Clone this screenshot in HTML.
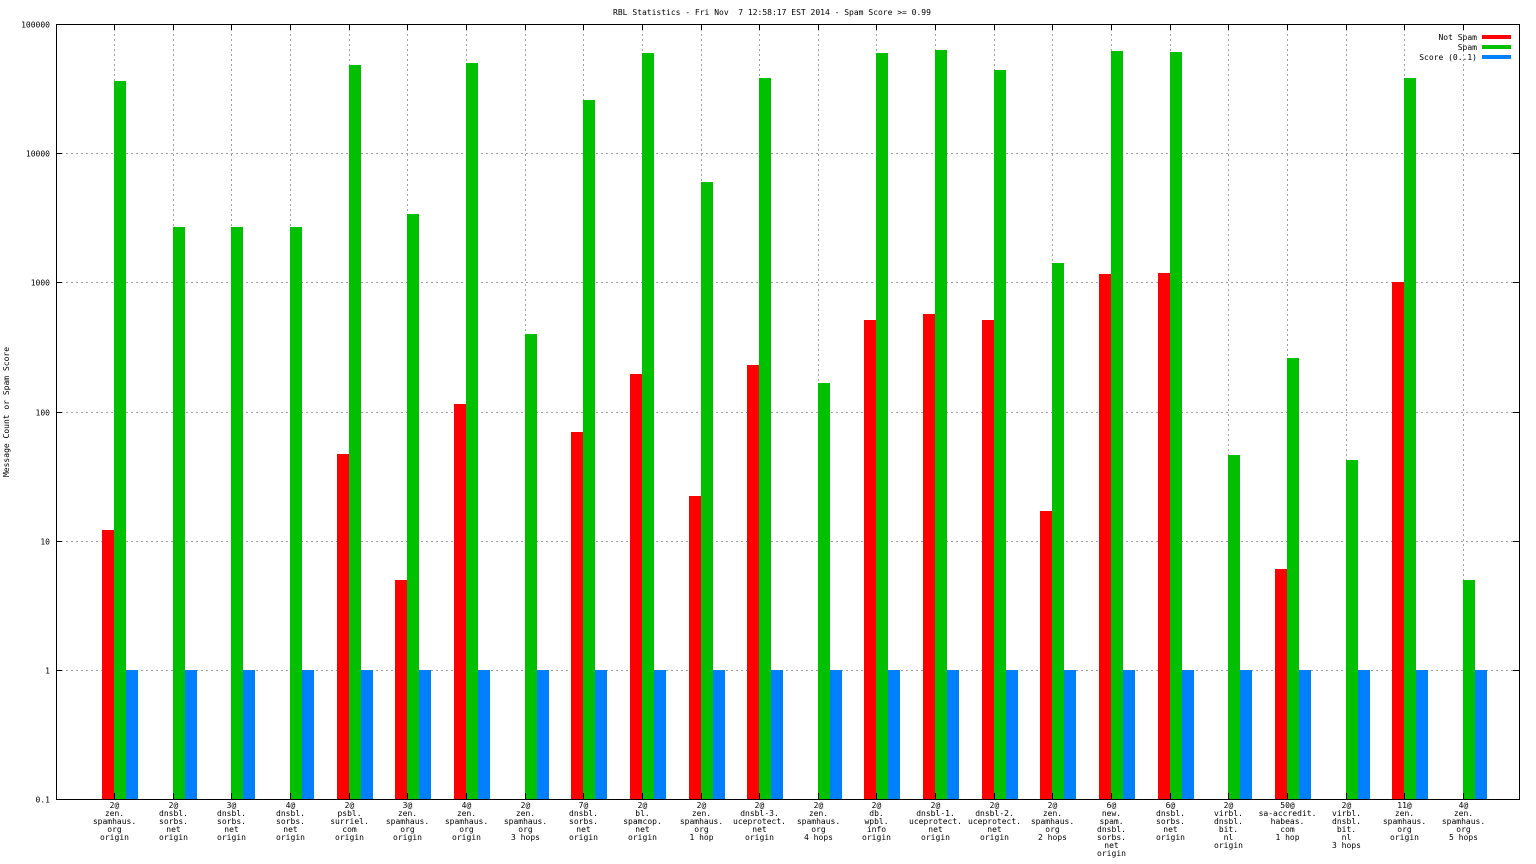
<!DOCTYPE html>
<html><head><meta charset="utf-8"><style>
body{margin:0;background:#fff}
svg{display:block}
text{font-family:"DejaVu Sans Mono","Liberation Mono",monospace;font-size:8px;fill:#000}
</style></head><body>
<svg id="chart" width="1536" height="864" xmlns="http://www.w3.org/2000/svg">
<text x="772" y="15" text-anchor="middle" style="white-space:pre">RBL Statistics - Fri Nov  7 12:58:17 EST 2014 - Spam Score &gt;= 0.99</text>
<text transform="translate(9,412) rotate(-90)" text-anchor="middle">Message Count or Spam Score</text>
<g id="grid"></g><g id="bars"></g><g id="ticks"></g>
<rect x="56.5" y="24.5" width="1463" height="775" fill="none" stroke="#000" stroke-width="1"/>
<g>
<text x="1477" y="40" text-anchor="end">Not Spam</text>
<rect x="1482" y="35" width="29" height="4" fill="#ff0000"/>
<text x="1477" y="50" text-anchor="end">Spam</text>
<rect x="1482" y="45" width="29" height="4" fill="#00c000"/>
<text x="1477" y="60" text-anchor="end">Score (0..1)</text>
<rect x="1482" y="55" width="29" height="4" fill="#0080ff"/>
</g>
</svg>
<script>
const categories = [
["2@","zen.","spamhaus.","org","origin"],
["2@","dnsbl.","sorbs.","net","origin"],
["3@","dnsbl.","sorbs.","net","origin"],
["4@","dnsbl.","sorbs.","net","origin"],
["2@","psbl.","surriel.","com","origin"],
["3@","zen.","spamhaus.","org","origin"],
["4@","zen.","spamhaus.","org","origin"],
["2@","zen.","spamhaus.","org","3 hops"],
["7@","dnsbl.","sorbs.","net","origin"],
["2@","bl.","spamcop.","net","origin"],
["2@","zen.","spamhaus.","org","1 hop"],
["2@","dnsbl-3.","uceprotect.","net","origin"],
["2@","zen.","spamhaus.","org","4 hops"],
["2@","db.","wpbl.","info","origin"],
["2@","dnsbl-1.","uceprotect.","net","origin"],
["2@","dnsbl-2.","uceprotect.","net","origin"],
["2@","zen.","spamhaus.","org","2 hops"],
["6@","new.","spam.","dnsbl.","sorbs.","net","origin"],
["6@","dnsbl.","sorbs.","net","origin"],
["2@","virbl.","dnsbl.","bit.","nl","origin"],
["50@","sa-accredit.","habeas.","com","1 hop"],
["2@","virbl.","dnsbl.","bit.","nl","3 hops"],
["11@","zen.","spamhaus.","org","origin"],
["4@","zen.","spamhaus.","org","5 hops"]
];
const notSpam = [12,null,null,null,47,5,115,null,70,195,22,230,null,510,570,510,17,1150,1180,null,6,null,1000,null];
const spam = [36000,2700,2700,2700,48000,3400,50000,400,26000,60000,6000,38000,165,60000,63000,44000,1400,62000,61000,46,260,42,38000,5];
const score = [1,1,1,1,1,1,1,1,1,1,1,1,1,1,1,1,1,1,1,1,1,1,1,1];
const yTicks = ["0.1","1","10","100","1000","10000","100000"];

const NS="http://www.w3.org/2000/svg";
const plotTop=24, plotBot=799, logLo=-1, logHi=5;
function yScale(v){return plotBot-(Math.log10(v)-logLo)/(logHi-logLo)*(plotBot-plotTop);}
function xScale(i){return 114+i*58.65;}
function mk(tag,attrs,parent){const e=document.createElementNS(NS,tag);for(const k in attrs)e.setAttribute(k,attrs[k]);parent.appendChild(e);return e;}
const grid=document.getElementById('grid'),bars=document.getElementById('bars'),ticks=document.getElementById('ticks');
yTicks.forEach(t=>{
  const yy=Math.round(yScale(parseFloat(t)))+0.5;
  if(t!=="0.1"&&t!=="100000"){
    const g=mk('line',{x1:56,x2:1519,y1:yy,y2:yy,stroke:'#a0a0a0','stroke-dasharray':'2,3'},grid);
    
    
  }
  const l=mk('text',{x:50,y:yy+3,'text-anchor':'end'},ticks);
  l.textContent=t;
  
  
  mk('line',{x1:56,x2:62,y1:yy,y2:yy,stroke:'#000'},ticks);
  mk('line',{x1:1513,x2:1519,y1:yy,y2:yy,stroke:'#000'},ticks);
});
categories.forEach((c,i)=>{
  const cx=Math.round(xScale(i))+0.5;
  const g=mk('line',{x1:cx,x2:cx,y1:24,y2:799,stroke:'#a0a0a0','stroke-dasharray':'2,3'},grid);
  
  
  mk('line',{x1:cx,x2:cx,y1:24,y2:30,stroke:'#000'},ticks);
  mk('line',{x1:cx,x2:cx,y1:793,y2:799,stroke:'#000'},ticks);
  const t=mk('text',{x:cx,y:808,'text-anchor':'middle'},ticks);
  
  
  c.forEach((line,j)=>{const ts=mk('tspan',{x:cx,dy:j?8:0},t);ts.textContent=line;});
  const base=Math.round(xScale(i));
  const series=[[notSpam[i],-12,'#ff0000','bar-not-spam'],[spam[i],0,'#00c000','bar-spam'],[score[i],12,'#0080ff','bar-score']];
  series.forEach(s=>{
    if(s[0]==null||s[0]<=0)return;
    const yy=Math.round(yScale(s[0]));
    const r=mk('rect',{x:base+s[1],y:yy,width:12,height:plotBot-yy,fill:s[2]},bars);
    
    
  });
});
</script>
</body></html>
